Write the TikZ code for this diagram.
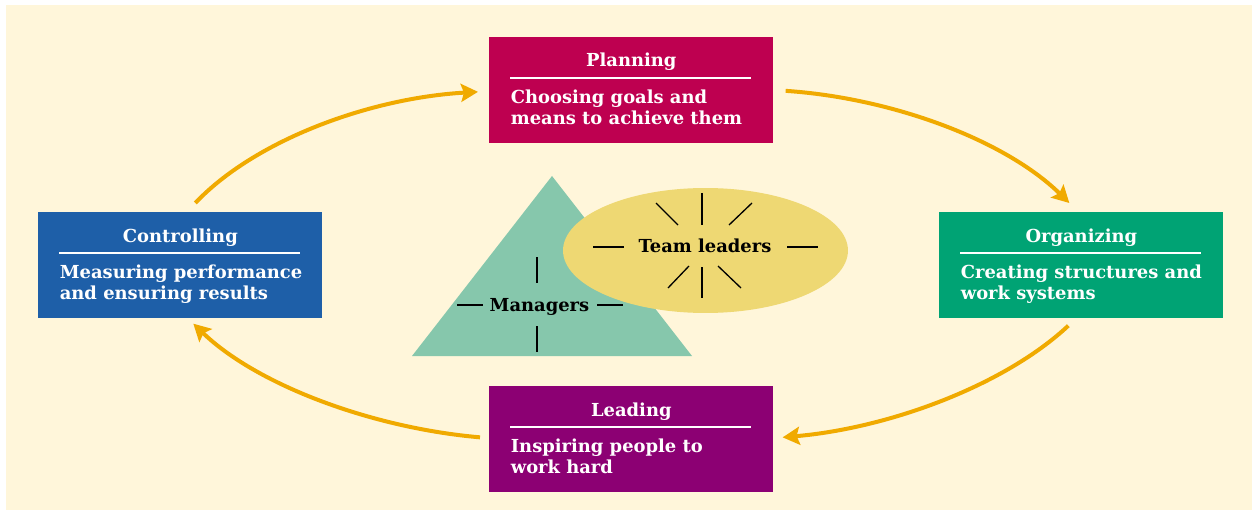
\documentclass[tikz,border=0pt]{standalone}
\usepackage{fontspec}
\usepackage{tikz}
\usetikzlibrary{arrows.meta,calc,shapes.geometric}
\newfontfamily\dvserif{DejaVu Serif}
\newcommand{\stagefont}{\dvserif\bfseries\fontsize{10.2}{11.6}\selectfont}
\definecolor{cream}{RGB}{255,246,218}
\definecolor{planred}{RGB}{190,0,80}
\definecolor{ctrlblue}{RGB}{30,95,168}
\definecolor{orggreen}{RGB}{0,163,116}
\definecolor{leadpurple}{RGB}{140,0,115}
\definecolor{mgrgreen}{RGB}{134,199,172}
\definecolor{teamyellow}{RGB}{238,216,115}
\definecolor{arrowgold}{RGB}{240,170,0}
\tikzset{
	stage/.style={fill=#1,minimum width=5.68cm,minimum height=2.12cm,inner sep=0pt,anchor=north west},
	stagetitle/.style={text=white,font=\stagefont,anchor=base,inner sep=0pt},
	stagebody/.style={text=white,font=\stagefont,align=left,anchor=north west,inner sep=0pt},
	titlerule/.style={draw=white,line width=0.6pt},
	cyclearrow/.style={draw=arrowgold,line width=0.08cm,-{Stealth[length=0.34cm,width=0.36cm,inset=0.06cm]}},
	ray/.style={line width=0.75pt},
	roletext/.style={font=\stagefont,anchor=base,inner sep=0pt}
}

\begin{document}
\begin{tikzpicture}[x=0.02cm,y=-0.02cm]
						\useasboundingbox (0,0) rectangle (1252,510);
						\fill[white] (0,0) rectangle (1252,510);
						\fill[cream] (6,5) rectangle (1252,510);

						\node [stage=planred] (plan) at (489,37) {};
						\node [stage=ctrlblue] (ctrl) at (38,212) {};
						\node [stage=orggreen] (org) at (939,212) {};
						\node [stage=leadpurple] (lead) at (489,386) {};

						\foreach \b/\t in {plan/Planning,ctrl/Controlling,org/Organizing,lead/Leading}{
							\node [stagetitle] (\b-title) at ($(\b.north)+(0,30)$) {\t};
							\draw [titlerule] ($(\b.north west)+(21,41)$) -- ($(\b.north east)+(-23,41)$);
						}
						\node [stagebody] (plan-body) at ($(plan.north west)+(21.5,53)$) {Choosing goals and\\means to achieve them};
						\node [stagebody] (ctrl-body) at ($(ctrl.north west)+(21.5,53)$) {Measuring performance\\and ensuring results};
						\node [stagebody] (org-body) at ($(org.north west)+(21.5,53)$) {Creating structures and\\work systems};
						\node [stagebody] (lead-body) at ($(lead.north west)+(21.5,53)$) {Inspiring people to\\work hard};

						\draw [cyclearrow] ($(ctrl.north)+(15,-9)$) .. controls (255,140) and (370,98) .. ($(plan.west)+(-11,1.5)$);
						\draw [cyclearrow] ($(plan.east)+(12,0.5)$) .. controls (892,98) and (1005,140) .. ($(org.north)+(-12,-9)$);
						\draw [cyclearrow] ($(org.south)+(-13,7)$) .. controls (1005,385) and (890,428) .. ($(lead.east)+(9,-2)$);
						\draw [cyclearrow] ($(lead.west)+(-9,-2)$) .. controls (372,428) and (257,385) .. ($(ctrl.south)+(13,5)$);

						\fill [mgrgreen] (552,176) -- (412,356) -- (692,356) -- cycle;
						\node [ellipse,fill=teamyellow,minimum width=5.7cm,minimum height=2.5cm,inner sep=0pt] (team) at (705.5,250.5) {};

						\node [roletext] (team-text) at (705,252.7) {Team leaders};
						\node [roletext] (mgr-text) at (539.5,311.7) {Managers};
						\foreach \a/\b/\c/\d in {593/247/624/247,787/247/818/247,702/193/702/225,702/267/702/298,
							656/203/678/225,752/203/729/225,689/266/668/288,718/266/741/288,
							457/305/483/305,597/305/623/305,537/257/537/283,537/326/537/352}
							\draw [ray] (\a,\b) -- (\c,\d);
					\end{tikzpicture}
\end{document}
